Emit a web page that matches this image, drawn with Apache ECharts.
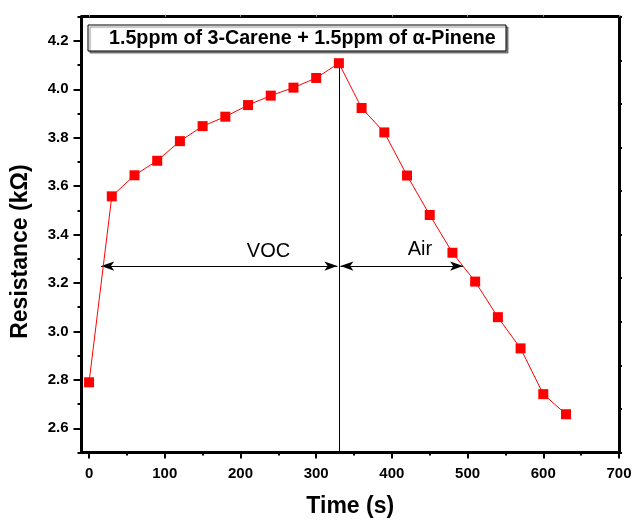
<!DOCTYPE html>
<html>
<head>
<meta charset="utf-8">
<script src="https://cdn.jsdelivr.net/npm/echarts@6/dist/echarts.min.js"></script>
<style>
html, body { margin: 0; padding: 0; background: #fff; }
#chart { width: 633px; height: 520px; }
</style>
</head>
<body>
<div id="chart"></div>
<script>
// data
var times = [0, 30, 60, 90, 120, 150, 180, 210, 240, 270, 300, 330, 360, 390, 420, 450, 480, 510, 540, 570, 600, 630];
var resistance = [2.79, 3.558, 3.645, 3.705, 3.786, 3.848, 3.887, 3.935, 3.974, 4.007, 4.047, 4.108, 3.923, 3.822, 3.644, 3.481, 3.325, 3.206, 3.059, 2.93, 2.741, 2.658];
var xTicks = [0, 100, 200, 300, 400, 500, 600, 700];
var xMinorTicks = [50, 150, 250, 350, 450, 550, 650];
var yTicks = [2.6, 2.8, 3.0, 3.2, 3.4, 3.6, 3.8, 4.0, 4.2];
var yMinorTicks = [2.5, 2.7, 2.9, 3.1, 3.3, 3.5, 3.7, 3.9, 4.1, 4.3];
var switchTime = 330;       // gas switched from VOC to air
var arrowLevel = 3.27;
var vocStart = 16;
var airEnd = 494;

var font = "'Liberation Sans', Arial, sans-serif";
var myChart = echarts.init(document.getElementById('chart'));

var pts = times.map(function (t, i) { return [t, resistance[i]]; });

option = {
    animation: false,
    grid: { left: 81.5, right: 14, top: 16.7, bottom: 67.5, outerBoundsMode: 'none', containLabel: false },
    xAxis: [
        {
            type: 'value', min: -10, max: 700, position: 'bottom',
            name: 'Time (s)', nameLocation: 'middle', nameGap: 43,
            nameTextStyle: { fontFamily: font, fontWeight: 'bold', fontSize: 23, color: '#000' },
            axisLine: { onZero: false, lineStyle: { color: '#000', width: 3 } },
            axisTick: { show: true, customValues: xTicks, length: 6, lineStyle: { color: '#000', width: 2 } },
            axisLabel: { customValues: xTicks, margin: 14, fontFamily: font, fontWeight: 'bold', fontSize: 15, color: '#000' },
            splitLine: { show: false }
        },
        {   // minor ticks
            type: 'value', min: -10, max: 700, position: 'bottom',
            axisLine: { show: false, onZero: false },
            axisTick: { show: true, customValues: xMinorTicks, length: 3, lineStyle: { color: '#000', width: 2 } },
            axisLabel: { show: false },
            splitLine: { show: false }
        },
        {   // top frame
            type: 'value', min: -10, max: 700, position: 'top',
            axisLine: { onZero: false, lineStyle: { color: '#000', width: 3 } },
            axisTick: { show: true, customValues: xTicks, length: 2, lineStyle: { color: '#999', width: 1 } },
            axisLabel: { show: false },
            splitLine: { show: false }
        }
    ],
    yAxis: [
        {
            type: 'value', min: 2.5, max: 4.3, position: 'left',
            name: 'Resistance (kΩ)', nameLocation: 'middle', nameGap: 49,
            nameTextStyle: { fontFamily: font, fontWeight: 'bold', fontSize: 23, color: '#000', padding: [0, 34, 0, 0] },
            axisLine: { onZero: false, lineStyle: { color: '#000', width: 3 } },
            axisTick: { show: true, customValues: yTicks, length: 8, lineStyle: { color: '#000', width: 2 } },
            axisLabel: {
                customValues: yTicks, margin: 13, fontFamily: font, fontWeight: 'bold', fontSize: 15, color: '#000',
                formatter: function (v) { return v.toFixed(1); }
            },
            splitLine: { show: false }
        },
        {   // minor ticks
            type: 'value', min: 2.5, max: 4.3, position: 'left',
            axisLine: { show: false, onZero: false },
            axisTick: { show: true, customValues: yMinorTicks, length: 4, lineStyle: { color: '#000', width: 2 } },
            axisLabel: { show: false },
            splitLine: { show: false }
        },
        {   // right frame
            type: 'value', min: 0, max: 10, interval: 1, position: 'right',
            axisLine: { show: true, onZero: false, lineStyle: { color: '#000', width: 3 } },
            axisTick: { show: true, length: 3, lineStyle: { color: '#000', width: 2 } },
            axisLabel: { show: false },
            splitLine: { show: false }
        }
    ],
    graphic: [
        {
            type: 'rect',
            shape: { x: 88, y: 25, width: 418, height: 26 },
            style: { fill: '#fff', stroke: '#000', lineWidth: 1, shadowColor: 'rgba(0,0,0,0.45)', shadowOffsetX: 2, shadowOffsetY: 2, shadowBlur: 1 },
            z: 10
        },
        {
            type: 'text',
            x: 109, y: 38.5,
            style: { text: '1.5ppm of 3-Carene + 1.5ppm of α-Pinene', font: 'bold 19.7px ' + font, fill: '#000', verticalAlign: 'middle' },
            z: 11
        }
    ],
    series: [
        {
            type: 'line',
            xAxisIndex: 0, yAxisIndex: 0,
            data: pts,
            symbol: 'rect', symbolSize: 10,
            itemStyle: { color: '#ff0000' },
            lineStyle: { color: '#ff0000', width: 1 },
            z: 5,
            markLine: {
                silent: true,
                label: { show: false },
                lineStyle: { color: '#000', width: 1, type: 'solid' },
                symbolSize: [7, 13],
                data: [
                    [
                        { coord: [switchTime, resistance[times.indexOf(switchTime)]], symbol: 'none' },
                        { coord: [switchTime, 2.5], symbol: 'none' }
                    ],
                    [
                        { coord: [vocStart, arrowLevel], symbol: 'arrow' },
                        { coord: [switchTime - 2, arrowLevel], symbol: 'arrow' }
                    ],
                    [
                        { coord: [switchTime + 2, arrowLevel], symbol: 'arrow' },
                        { coord: [airEnd, arrowLevel], symbol: 'arrow' }
                    ]
                ]
            },
            markPoint: {
                silent: true,
                symbol: 'circle', symbolSize: 1,
                itemStyle: { color: 'rgba(0,0,0,0)' },
                label: { show: true, position: 'inside', fontFamily: font, fontSize: 20, color: '#000' },
                data: [
                    { coord: [237, 3.332], value: 'VOC', label: { formatter: 'VOC' } },
                    { coord: [437, 3.34], value: 'Air', label: { formatter: 'Air' } }
                ]
            }
        }
    ]
};
myChart.setOption(option);
</script>
</body>
</html>
